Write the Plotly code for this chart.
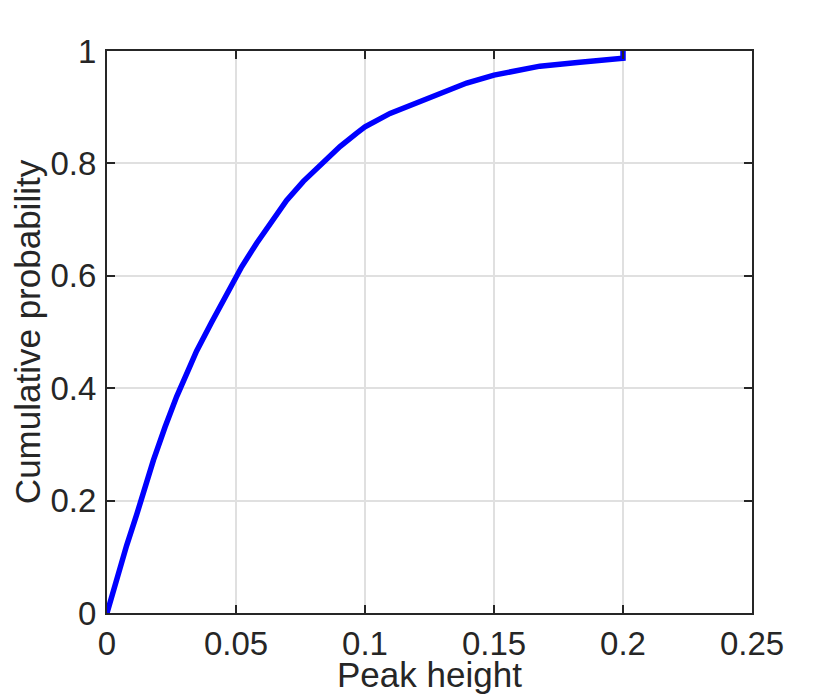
import plotly.graph_objects as go

peak_height = [0, 0.0037, 0.0076, 0.0115, 0.0141, 0.0180, 0.0225, 0.0270, 0.0315,
               0.0347, 0.0405, 0.0457, 0.0496, 0.0522, 0.0580, 0.0632, 0.0696,
               0.0761, 0.0832, 0.0903, 0.0968, 0.1, 0.1097, 0.1226, 0.131,
               0.1394, 0.15, 0.1678, 0.1833, 0.1995, 0.2, 0.2]
cum_prob = [0, 0.060, 0.120, 0.175, 0.215, 0.272, 0.331, 0.385, 0.432,
            0.466, 0.517, 0.563, 0.596, 0.616, 0.658, 0.694, 0.734,
            0.768, 0.800, 0.830, 0.854, 0.865, 0.889, 0.913, 0.928,
            0.943, 0.957, 0.973, 0.980, 0.987, 0.987, 1.0]

x_ticks = [0, 0.05, 0.1, 0.15, 0.2, 0.25]
x_tick_labels = ["0", "0.05", "0.1", "0.15", "0.2", "0.25"]
y_ticks = [0, 0.2, 0.4, 0.6, 0.8, 1]
y_tick_labels = ["0", "0.2", "0.4", "0.6", "0.8", "1"]

x_title = "Peak height"
y_title = "Cumulative probability"

font_family = "Liberation Sans, Arial, Helvetica, sans-serif"
text_color = "#262626"

fig = go.Figure()
fig.add_trace(go.Scatter(
    x=peak_height, y=cum_prob, mode="lines",
    line=dict(color="#0000ff", width=5.5),
    cliponaxis=False, showlegend=False,
))

axis_common = dict(
    showline=True, linecolor=text_color, linewidth=2,
    mirror="ticks", ticks="inside", ticklen=8, tickwidth=2, tickcolor=text_color,
    showgrid=True, gridcolor="#e0e0e0", gridwidth=2,
    zeroline=False, automargin=False,
    tickfont=dict(family=font_family, size=33, color=text_color),
    title_font=dict(family=font_family, size=35, color=text_color),
)

# the page body adds an 8px offset, so margins are reduced accordingly
fig.update_layout(
    width=830, height=694,
    margin=dict(l=99, r=86, t=43, b=89),
    paper_bgcolor="white", plot_bgcolor="white",
    xaxis=dict(range=[0, 0.25], tickvals=x_ticks, ticktext=x_tick_labels,
               ticklabelstandoff=0, **axis_common),
    yaxis=dict(range=[0, 1], tickvals=y_ticks, ticktext=y_tick_labels,
               title=dict(text=y_title, standoff=4), ticklabelstandoff=2, **axis_common),
)

# x-axis title placed just below the tick labels
fig.add_annotation(
    text=x_title, xref="paper", yref="paper", x=0.5, y=-0.071,
    xanchor="center", yanchor="top", showarrow=False,
    font=dict(family=font_family, size=35, color=text_color),
)

fig.write_html("out.html")
